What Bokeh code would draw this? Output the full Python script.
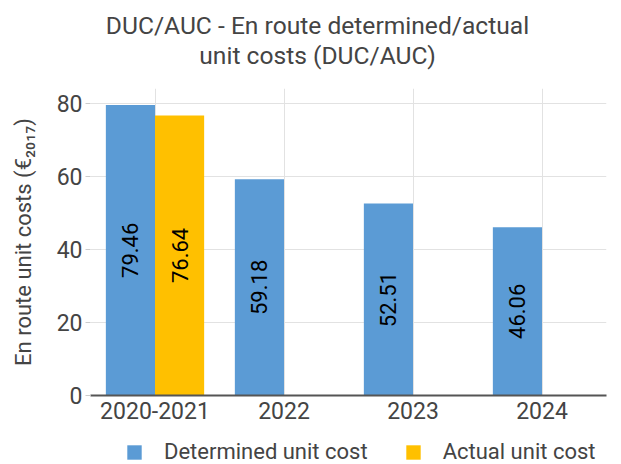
from bokeh.plotting import figure
from bokeh.models import ColumnDataSource, FactorRange, Range1d, Legend, LegendItem, LabelSet, Div
from bokeh.layouts import column
from bokeh.transform import dodge
from bokeh.embed import file_html
from bokeh.resources import INLINE
from bokeh.core.properties import value
import math

title_lines = ["DUC/AUC - En route determined/actual", "unit costs (DUC/AUC)"]
years = ["2020-2021", "2022", "2023", "2024"]
determined = [79.46, 59.18, 52.51, 46.06]
actual = [76.64, float("nan"), float("nan"), float("nan")]
det_labels = ["79.46", "59.18", "52.51", "46.06"]
act_labels = ["76.64", "", "", ""]
y_ticks = [0, 20, 40, 60, 80]
series_names = ["Determined unit cost", "Actual unit cost"]

FONT = "Roboto"
TXT = "#444444"
BLUE = "#5B9BD5"
GOLD = "#FFC000"

src = ColumnDataSource(dict(
    x=years, det=determined, act=actual,
    det_mid=[v / 2 for v in determined],
    act_mid=[v / 2 for v in actual],
    det_lab=det_labels, act_lab=act_labels,
))

title = Div(text='<div style="width: 621px; box-sizing: border-box; margin: 0; '
                 'padding: 11px 0 0 14px; font-family: Roboto; font-size: 24.6px; '
                 'line-height: 30px; color: #444444; text-align: center;">'
                 + "<br>".join(title_lines) + "</div>",
            width=621, height=79, margin=0)

p = figure(x_range=FactorRange(*years, range_padding=0), y_range=Range1d(0, 84),
           frame_width=516, frame_height=307, output_backend="svg", toolbar_location=None,
           min_border_left=90, min_border_right=15, min_border_top=9, min_border_bottom=36)
p.outline_line_color = None

W = 0.381
r1 = p.vbar(x=dodge("x", -W / 2, range=p.x_range), top="det", width=W, source=src,
            fill_color=BLUE, line_color=None)
r2 = p.vbar(x=dodge("x", W / 2, range=p.x_range), top="act", width=W, source=src,
            fill_color=GOLD, line_color=None)

for xoff, ycol, lcol in [(-W / 2, "det_mid", "det_lab"), (W / 2, "act_mid", "act_lab")]:
    ls = LabelSet(x=dodge("x", xoff, range=p.x_range), y=ycol, text=lcol, source=src,
                  angle=math.pi / 2, text_align="center", text_baseline="middle",
                  text_font=value(FONT), text_font_size="22px", text_color="black")
    p.add_layout(ls)

p.xgrid.grid_line_color = "#e2e2e2"
p.ygrid.grid_line_color = "#e2e2e2"
p.ygrid.ticker = y_ticks

p.xaxis.axis_line_color = "#555555"
p.xaxis.axis_line_width = 2
p.xaxis.major_tick_line_color = None
p.xaxis.major_tick_out = 0
p.xaxis.minor_tick_line_color = None
p.xaxis.major_label_text_font = FONT
p.xaxis.major_label_text_font_size = "23px"
p.xaxis.major_label_text_color = TXT
p.xaxis.major_label_standoff = 6

p.yaxis.ticker = y_ticks
p.yaxis.axis_line_color = None
p.yaxis.major_tick_line_color = "#cccccc"
p.yaxis.major_tick_out = 5
p.yaxis.major_tick_in = 0
p.yaxis.minor_tick_line_color = None
p.yaxis.major_label_text_font = FONT
p.yaxis.major_label_text_font_size = "23px"
p.yaxis.major_label_text_color = TXT
p.yaxis.major_label_standoff = 3
p.yaxis.axis_label = "En route unit costs (€₂₀₁₇)"
p.yaxis.axis_label_text_font = FONT
p.yaxis.axis_label_text_font_size = "22px"
p.yaxis.axis_label_text_font_style = "normal"
p.yaxis.axis_label_text_color = TXT
p.yaxis.axis_label_standoff = 18

# legend strip below the chart
pl = figure(x_range=p.x_range, y_range=Range1d(1000, 1001),
            frame_width=516, frame_height=33, output_backend="svg", toolbar_location=None,
            min_border_left=90, min_border_right=15, min_border_top=0, min_border_bottom=0,
            x_axis_location=None, y_axis_location=None)
pl.outline_line_color = None
pl.xgrid.visible = False
pl.ygrid.visible = False
l1 = pl.vbar(x=dodge("x", -W / 2, range=p.x_range), top="det", width=W, source=src,
             fill_color=BLUE, line_color=None)
l2 = pl.vbar(x=dodge("x", W / 2, range=p.x_range), top="act", width=W, source=src,
             fill_color=GOLD, line_color=None)

legend = Legend(items=[LegendItem(label=series_names[0], renderers=[l1]),
                       LegendItem(label=series_names[1], renderers=[l2])],
                orientation="horizontal", location=(35, 0),
                glyph_width=18, glyph_height=18, label_height=18, label_standoff=21, spacing=36,
                label_text_font=FONT, label_text_font_size="22px", label_text_color=TXT,
                border_line_color=None, background_fill_alpha=0, padding=0, margin=0)
pl.add_layout(legend, "center")

layout = column(title, p, pl, spacing=0)
open("out.html", "w").write(file_html(layout, INLINE))
